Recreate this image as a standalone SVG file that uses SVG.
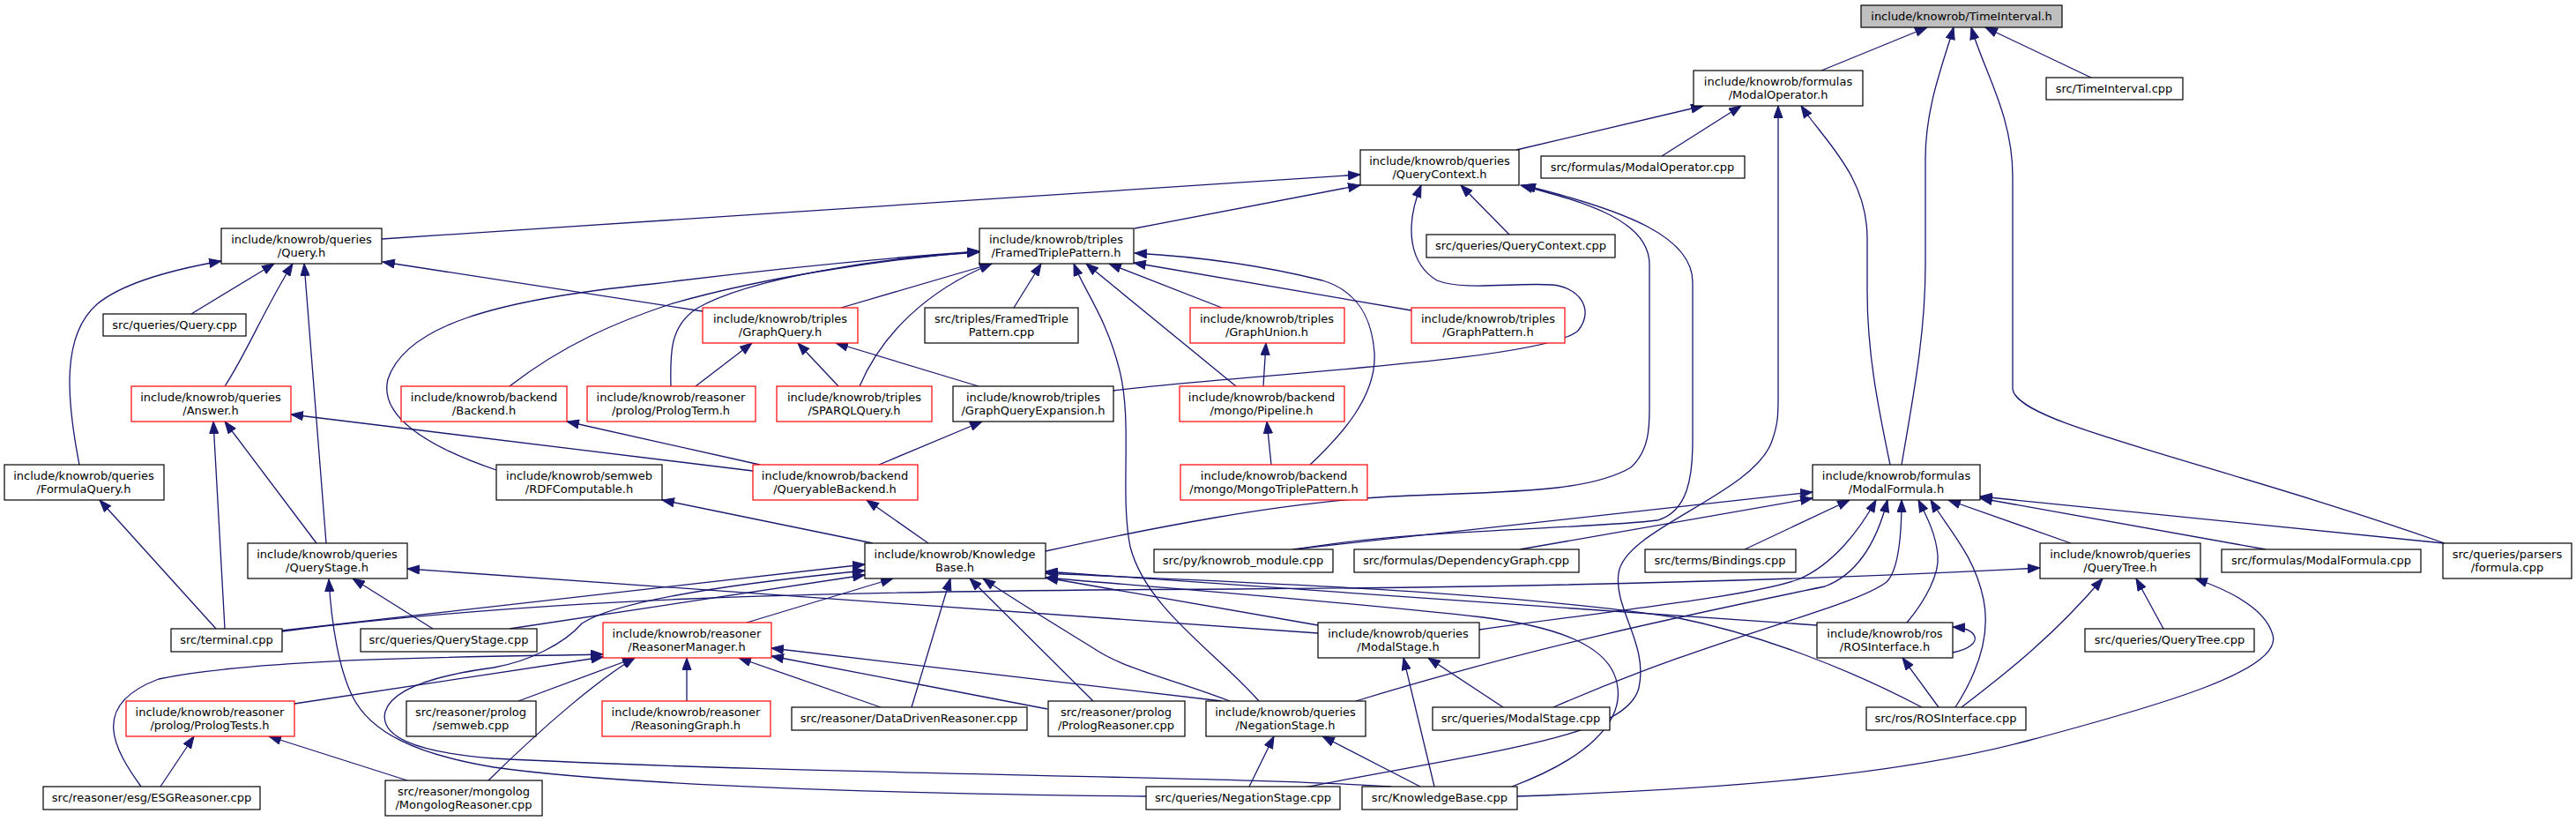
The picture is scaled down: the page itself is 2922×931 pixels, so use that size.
<svg xmlns="http://www.w3.org/2000/svg" width="2922" height="931" viewBox="0 0 2922 931">
<defs>
<marker id="ah" markerWidth="15" markerHeight="11" refX="14" refY="5.5" orient="auto" markerUnits="userSpaceOnUse"><path d="M0.5,0.5 L14,5.5 L0.5,10.5 z" fill="#191970" stroke="#191970" stroke-width="1"/></marker>
<style>
.n rect{fill:#ffffff;stroke:#000000;stroke-width:1.2}
.n.r rect{stroke:#ff0000}
.n.g rect{fill:#bfbfbf}
.n text{font-family:"DejaVu Sans","Liberation Sans",sans-serif;font-size:13px;text-anchor:middle;fill:#000}
.e path{fill:none;stroke:#191970;stroke-width:1.3;marker-end:url(#ah)}
</style>
</defs>
<rect width="2922" height="931" fill="#ffffff"/>
<g id="edges" class="e">
<path d="M2066,80 L2186,31"/>
<path d="M2372,88 L2252,31"/>
<path d="M2157,527 C2170,450 2184,380 2184,300 L2184,180 C2184,120 2205,70 2216,31"/>
<path d="M2773,616 C2500,520 2283,480 2283,440 L2283,200 C2283,130 2250,80 2236,31"/>
<path d="M1720,170 L1932,120"/>
<path d="M1885,177 L1975,120"/>
<path d="M1479,893 C1700,850 1845,835 1859,780 C1870,730 1830,690 1836,650 C1842,600 1990,560 2010,500 C2017,480 2017,470 2017,450 L2017,120"/>
<path d="M2144,527 C2130,460 2118,400 2118,330 L2118,270 C2118,200 2070,160 2043,120"/>
<path d="M433,271 L1543,198"/>
<path d="M1287,259 L1543,210"/>
<path d="M1263,443 C1400,425 1750,410 1790,375 C1810,350 1790,325 1760,323 C1720,320 1660,330 1630,318 C1600,300 1592,260 1612,210"/>
<path d="M1712,266 L1657,210"/>
<path d="M1186,625 C1300,600 1450,570 1578,563 C1700,557 1800,560 1850,530 C1872,510 1871,480 1871,460 L1871,300 C1871,250 1800,230 1725,210"/>
<path d="M1470,623 C1600,600 1800,600 1880,590 C1915,580 1920,540 1920,500 L1920,320 C1920,270 1850,240 1728,210"/>
<path d="M90,527 C75,450 70,380 110,345 C140,320 200,305 251,296"/>
<path d="M217,356 L311,299"/>
<path d="M255,438 C280,400 300,350 332,299"/>
<path d="M370,616 L345,299"/>
<path d="M797,353 L434,297"/>
<path d="M1150,349 L1181,299"/>
<path d="M1428,795 C1380,740 1300,690 1282,620 C1270,560 1285,480 1270,420 C1255,360 1230,330 1218,299"/>
<path d="M1402,438 L1232,299"/>
<path d="M1386,349 L1258,299"/>
<path d="M1601,352 L1286,298"/>
<path d="M1486,527 C1520,495 1562,450 1559,400 C1556,360 1540,330 1500,318 C1420,298 1340,290 1287,287"/>
<path d="M563,533 C480,505 430,470 440,430 C460,370 560,340 740,322 C900,302 1040,290 1111,285"/>
<path d="M578,438 C640,390 700,365 760,345 C880,310 1030,292 1111,285"/>
<path d="M761,438 C760,400 760,370 790,350 C850,315 1000,292 1111,286"/>
<path d="M954,349 L1125,299"/>
<path d="M975,438 C1000,380 1050,330 1125,299"/>
<path d="M789,438 L853,389"/>
<path d="M951,438 L905,389"/>
<path d="M1110,438 L948,389"/>
<path d="M1433,438 L1436,389"/>
<path d="M1442,527 L1437,478"/>
<path d="M854,534 L330,470"/>
<path d="M862,527 L643,478"/>
<path d="M997,527 L1114,478"/>
<path d="M1053,616 L983,567"/>
<path d="M990,616 L751,567"/>
<path d="M255,713 L242,478"/>
<path d="M359,616 L255,478"/>
<path d="M245,713 L113,567"/>
<path d="M1300,903 C1000,900 700,890 560,870 C470,855 420,830 400,790 C385,760 376,710 373,657"/>
<path d="M491,713 L400,656"/>
<path d="M1495,718 L462,645"/>
<path d="M1495,709 L1186,655"/>
<path d="M320,715 L981,640"/>
<path d="M320,716 C600,680 900,670 1400,668 C1900,665 2200,650 2314,644"/>
<path d="M578,713 L981,652"/>
<path d="M1578,892 C1400,880 900,878 560,860 C470,853 430,835 437,807 C445,780 500,765 560,757 C600,750 640,730 660,707 C700,680 850,660 981,647"/>
<path d="M847,706 L1013,656"/>
<path d="M160,892 C130,850 100,800 180,770 C300,745 550,745 684,742"/>
<path d="M334,798 L684,745"/>
<path d="M554,885 C620,820 680,770 720,746"/>
<path d="M462,885 L305,835"/>
<path d="M182,892 L220,835"/>
<path d="M588,795 L720,746"/>
<path d="M779,795 L779,746"/>
<path d="M999,802 L838,746"/>
<path d="M1034,802 L1078,656"/>
<path d="M1188,804 L875,744"/>
<path d="M1240,795 L1100,656"/>
<path d="M1386,795 L875,735"/>
<path d="M1395,795 C1330,770 1280,760 1245,738 C1200,710 1150,680 1115,656"/>
<path d="M1417,892 L1445,835"/>
<path d="M1611,892 L1500,835"/>
<path d="M1627,892 L1592,746"/>
<path d="M1705,802 L1620,746"/>
<path d="M2061,709 C1800,690 1400,665 1186,648"/>
<path d="M2180,802 C2100,760 2000,720 1900,700 C1700,670 1400,660 1186,650"/>
<path d="M1715,892 C1800,860 1840,820 1835,780 C1830,730 1760,710 1682,700 C1500,680 1300,665 1186,655"/>
<path d="M1721,903 C1950,895 2150,880 2300,840 C2450,800 2590,760 2578,720 C2570,690 2530,670 2490,656"/>
<path d="M2225,802 C2280,760 2330,720 2385,656"/>
<path d="M2454,713 L2423,656"/>
<path d="M2199,802 L2158,746"/>
<path d="M2215,740 C2235,736 2242,728 2240,722 C2238,716 2230,712 2215,711"/>
<path d="M1466,623 L2056,558"/>
<path d="M1724,623 L2056,565"/>
<path d="M1979,623 L2098,567"/>
<path d="M2349,616 L2210,567"/>
<path d="M2570,623 L2246,565"/>
<path d="M2772,616 L2246,563"/>
<path d="M2218,802 C2245,760 2258,720 2250,680 C2240,630 2210,600 2190,567"/>
<path d="M2163,706 C2185,680 2200,650 2198,630 C2196,605 2185,585 2176,567"/>
<path d="M1762,802 C1950,720 2100,690 2140,660 C2155,645 2157,600 2157,567"/>
<path d="M1538,795 C1750,730 1950,690 2070,665 C2110,650 2130,610 2141,567"/>
<path d="M1678,714 C1850,690 1990,675 2040,657 C2080,640 2110,600 2128,567"/>
</g>
<g id="n_TimeInterval_h" class="n g"><rect x="2111" y="6" width="228" height="25"/><text x="2225" y="23">include/knowrob/TimeInterval.h</text></g>
<g id="n_ModalOperator_h" class="n"><rect x="1921" y="80" width="192" height="40"/><text x="2017" y="97">include/knowrob/formulas</text><text x="2017" y="112">/ModalOperator.h</text></g>
<g id="n_TimeInterval_cpp" class="n"><rect x="2321" y="88" width="155" height="25"/><text x="2398" y="105">src/TimeInterval.cpp</text></g>
<g id="n_QueryContext_h" class="n"><rect x="1543" y="170" width="180" height="40"/><text x="1633" y="187">include/knowrob/queries</text><text x="1633" y="202">/QueryContext.h</text></g>
<g id="n_ModalOperator_cpp" class="n"><rect x="1748" y="177" width="231" height="25"/><text x="1863" y="194">src/formulas/ModalOperator.cpp</text></g>
<g id="n_Query_h" class="n"><rect x="251" y="259" width="182" height="40"/><text x="342" y="276">include/knowrob/queries</text><text x="342" y="291">/Query.h</text></g>
<g id="n_FramedTriplePattern_h" class="n"><rect x="1111" y="259" width="175" height="40"/><text x="1198" y="276">include/knowrob/triples</text><text x="1198" y="291">/FramedTriplePattern.h</text></g>
<g id="n_QueryContext_cpp" class="n"><rect x="1618" y="266" width="214" height="26"/><text x="1725" y="283">src/queries/QueryContext.cpp</text></g>
<g id="n_Query_cpp" class="n"><rect x="117" y="356" width="162" height="25"/><text x="198" y="373">src/queries/Query.cpp</text></g>
<g id="n_GraphQuery_h" class="n r"><rect x="797" y="349" width="176" height="40"/><text x="885" y="366">include/knowrob/triples</text><text x="885" y="381">/GraphQuery.h</text></g>
<g id="n_FramedTriplePattern_cpp" class="n"><rect x="1049" y="349" width="174" height="40"/><text x="1136" y="366">src/triples/FramedTriple</text><text x="1136" y="381">Pattern.cpp</text></g>
<g id="n_GraphUnion_h" class="n r"><rect x="1350" y="349" width="175" height="40"/><text x="1437" y="366">include/knowrob/triples</text><text x="1437" y="381">/GraphUnion.h</text></g>
<g id="n_GraphPattern_h" class="n r"><rect x="1601" y="349" width="174" height="40"/><text x="1688" y="366">include/knowrob/triples</text><text x="1688" y="381">/GraphPattern.h</text></g>
<g id="n_Answer_h" class="n r"><rect x="149" y="438" width="181" height="40"/><text x="239" y="455">include/knowrob/queries</text><text x="239" y="470">/Answer.h</text></g>
<g id="n_Backend_h" class="n r"><rect x="455" y="438" width="188" height="40"/><text x="549" y="455">include/knowrob/backend</text><text x="549" y="470">/Backend.h</text></g>
<g id="n_PrologTerm_h" class="n r"><rect x="666" y="438" width="191" height="40"/><text x="761" y="455">include/knowrob/reasoner</text><text x="761" y="470">/prolog/PrologTerm.h</text></g>
<g id="n_SPARQLQuery_h" class="n r"><rect x="881" y="438" width="176" height="40"/><text x="969" y="455">include/knowrob/triples</text><text x="969" y="470">/SPARQLQuery.h</text></g>
<g id="n_GraphQueryExpansion_h" class="n"><rect x="1081" y="438" width="182" height="40"/><text x="1172" y="455">include/knowrob/triples</text><text x="1172" y="470">/GraphQueryExpansion.h</text></g>
<g id="n_Pipeline_h" class="n r"><rect x="1338" y="438" width="187" height="40"/><text x="1431" y="455">include/knowrob/backend</text><text x="1431" y="470">/mongo/Pipeline.h</text></g>
<g id="n_FormulaQuery_h" class="n"><rect x="5" y="527" width="181" height="40"/><text x="95" y="544">include/knowrob/queries</text><text x="95" y="559">/FormulaQuery.h</text></g>
<g id="n_RDFComputable_h" class="n"><rect x="563" y="527" width="188" height="40"/><text x="657" y="544">include/knowrob/semweb</text><text x="657" y="559">/RDFComputable.h</text></g>
<g id="n_QueryableBackend_h" class="n r"><rect x="854" y="527" width="187" height="40"/><text x="947" y="544">include/knowrob/backend</text><text x="947" y="559">/QueryableBackend.h</text></g>
<g id="n_MongoTriplePattern_h" class="n r"><rect x="1339" y="527" width="212" height="40"/><text x="1445" y="544">include/knowrob/backend</text><text x="1445" y="559">/mongo/MongoTriplePattern.h</text></g>
<g id="n_ModalFormula_h" class="n"><rect x="2056" y="527" width="190" height="40"/><text x="2151" y="544">include/knowrob/formulas</text><text x="2151" y="559">/ModalFormula.h</text></g>
<g id="n_QueryStage_h" class="n"><rect x="281" y="616" width="181" height="40"/><text x="371" y="633">include/knowrob/queries</text><text x="371" y="648">/QueryStage.h</text></g>
<g id="n_KnowledgeBase_h" class="n"><rect x="981" y="616" width="205" height="40"/><text x="1083" y="633">include/knowrob/Knowledge</text><text x="1083" y="648">Base.h</text></g>
<g id="n_knowrob_module_cpp" class="n"><rect x="1309" y="623" width="203" height="26"/><text x="1410" y="640">src/py/knowrob_module.cpp</text></g>
<g id="n_DependencyGraph_cpp" class="n"><rect x="1536" y="623" width="255" height="26"/><text x="1663" y="640">src/formulas/DependencyGraph.cpp</text></g>
<g id="n_Bindings_cpp" class="n"><rect x="1866" y="623" width="171" height="26"/><text x="1951" y="640">src/terms/Bindings.cpp</text></g>
<g id="n_QueryTree_h" class="n"><rect x="2314" y="616" width="182" height="40"/><text x="2405" y="633">include/knowrob/queries</text><text x="2405" y="648">/QueryTree.h</text></g>
<g id="n_ModalFormula_cpp" class="n"><rect x="2520" y="623" width="226" height="26"/><text x="2633" y="640">src/formulas/ModalFormula.cpp</text></g>
<g id="n_formula_cpp" class="n"><rect x="2771" y="616" width="146" height="40"/><text x="2844" y="633">src/queries/parsers</text><text x="2844" y="648">/formula.cpp</text></g>
<g id="n_terminal_cpp" class="n"><rect x="194" y="713" width="126" height="26"/><text x="257" y="730">src/terminal.cpp</text></g>
<g id="n_QueryStage_cpp" class="n"><rect x="409" y="713" width="200" height="26"/><text x="509" y="730">src/queries/QueryStage.cpp</text></g>
<g id="n_ReasonerManager_h" class="n r"><rect x="684" y="706" width="191" height="40"/><text x="779" y="723">include/knowrob/reasoner</text><text x="779" y="738">/ReasonerManager.h</text></g>
<g id="n_ModalStage_h" class="n"><rect x="1495" y="706" width="183" height="40"/><text x="1586" y="723">include/knowrob/queries</text><text x="1586" y="738">/ModalStage.h</text></g>
<g id="n_ROSInterface_h" class="n"><rect x="2061" y="706" width="154" height="40"/><text x="2138" y="723">include/knowrob/ros</text><text x="2138" y="738">/ROSInterface.h</text></g>
<g id="n_QueryTree_cpp" class="n"><rect x="2365" y="713" width="192" height="26"/><text x="2461" y="730">src/queries/QueryTree.cpp</text></g>
<g id="n_PrologTests_h" class="n r"><rect x="143" y="795" width="191" height="40"/><text x="238" y="812">include/knowrob/reasoner</text><text x="238" y="827">/prolog/PrologTests.h</text></g>
<g id="n_semweb_cpp" class="n"><rect x="461" y="795" width="147" height="40"/><text x="534" y="812">src/reasoner/prolog</text><text x="534" y="827">/semweb.cpp</text></g>
<g id="n_ReasoningGraph_h" class="n r"><rect x="683" y="795" width="191" height="40"/><text x="778" y="812">include/knowrob/reasoner</text><text x="778" y="827">/ReasoningGraph.h</text></g>
<g id="n_DataDrivenReasoner_cpp" class="n"><rect x="898" y="802" width="267" height="26"/><text x="1031" y="819">src/reasoner/DataDrivenReasoner.cpp</text></g>
<g id="n_PrologReasoner_cpp" class="n"><rect x="1189" y="795" width="155" height="40"/><text x="1266" y="812">src/reasoner/prolog</text><text x="1266" y="827">/PrologReasoner.cpp</text></g>
<g id="n_NegationStage_h" class="n"><rect x="1368" y="795" width="181" height="40"/><text x="1458" y="812">include/knowrob/queries</text><text x="1458" y="827">/NegationStage.h</text></g>
<g id="n_ModalStage_cpp" class="n"><rect x="1625" y="802" width="201" height="26"/><text x="1725" y="819">src/queries/ModalStage.cpp</text></g>
<g id="n_ROSInterface_cpp" class="n"><rect x="2117" y="802" width="181" height="26"/><text x="2207" y="819">src/ros/ROSInterface.cpp</text></g>
<g id="n_ESGReasoner_cpp" class="n"><rect x="49" y="892" width="246" height="26"/><text x="172" y="909">src/reasoner/esg/ESGReasoner.cpp</text></g>
<g id="n_MongologReasoner_cpp" class="n"><rect x="437" y="885" width="178" height="40"/><text x="526" y="902">src/reasoner/mongolog</text><text x="526" y="917">/MongologReasoner.cpp</text></g>
<g id="n_NegationStage_cpp" class="n"><rect x="1300" y="892" width="220" height="26"/><text x="1410" y="909">src/queries/NegationStage.cpp</text></g>
<g id="n_KnowledgeBase_cpp" class="n"><rect x="1545" y="892" width="176" height="26"/><text x="1633" y="909">src/KnowledgeBase.cpp</text></g>
</svg>
